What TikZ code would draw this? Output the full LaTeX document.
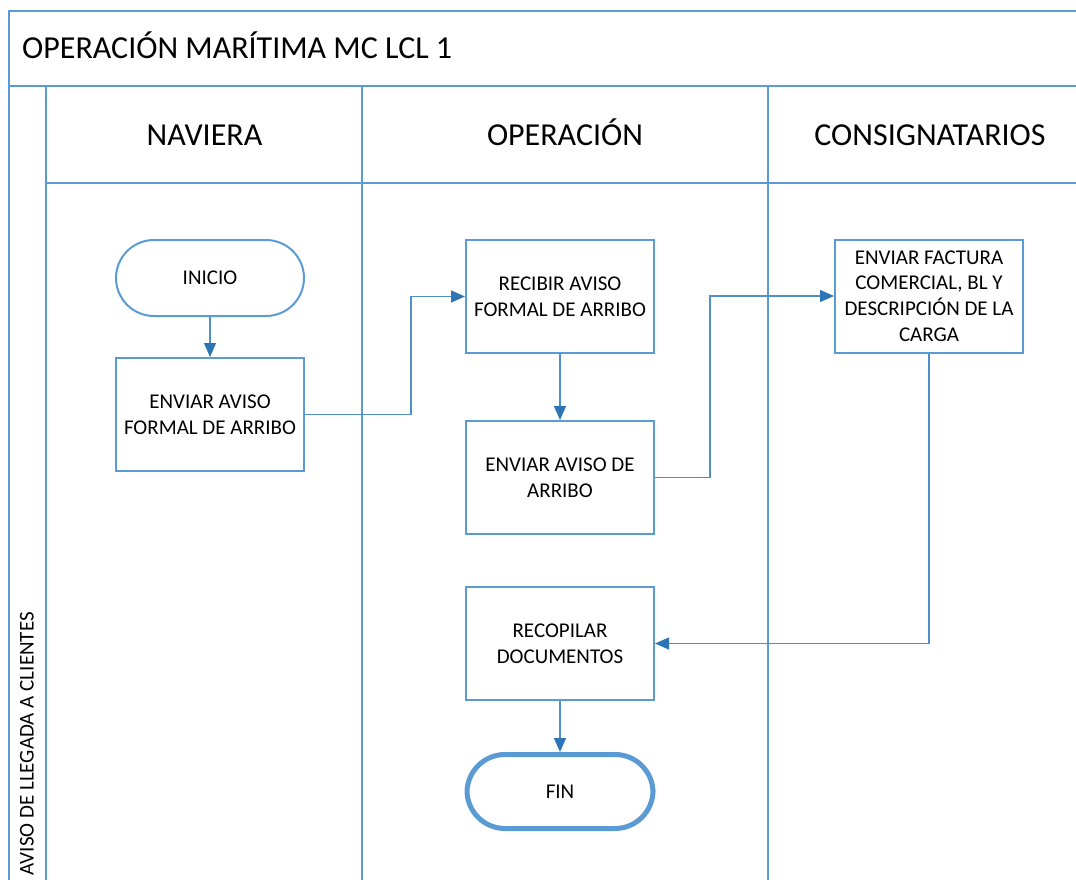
\documentclass[tikz,border=0pt]{standalone}
\usepackage{fontspec}
\setmainfont{Carlito}
\usetikzlibrary{arrows.meta}
\definecolor{lane}{HTML}{5B9BD5}
\definecolor{conn}{HTML}{4F8FCC}
\definecolor{tip}{HTML}{2E75B6}
\tikzset{
  frame/.style={draw=lane, line width=2pt},
  big/.style={font=\fontsize{32}{38}\selectfont, inner sep=0pt},
  txt/.style={font=\fontsize{21}{25.6}\selectfont, align=center},
  procbox/.style={draw=lane, line width=2pt, fill=white, minimum width=188pt, minimum height=113pt, txt},
  termbox/.style={draw=lane, line width=2pt, fill=white, rounded corners=38pt, minimum width=188pt, minimum height=76pt, txt},
  conn/.style={draw=conn, line width=1.3pt, -{Triangle[length=14pt,width=12pt,color=tip]}},
}
\begin{document}
\begin{tikzpicture}[x=1pt,y=-1pt]
\useasboundingbox (0,0) rectangle (1076,880);
\fill[white] (0,0) rectangle (1076,880);
% frame
\draw[frame] (9,880) -- (9,11) -- (1076,11);
\draw[frame] (9,86) -- (1076,86);
\draw[frame] (46,86) -- (46,880);
\draw[frame] (46,183) -- (1076,183);
\draw[frame] (362,86) -- (362,880);
\draw[frame] (768,86) -- (768,880);
% labels
\node[big, anchor=base west] (title) at (22,59) {OPERACIÓN MARÍTIMA MC LCL 1};
\node[big, anchor=base] (h1) at (204.5,146) {NAVIERA};
\node[big, anchor=base] (h2) at (565,146) {OPERACIÓN};
\node[big, anchor=base] (h3) at (930,146) {CONSIGNATARIOS};
\node[font=\fontsize{21}{25.6}\selectfont, inner sep=0pt, rotate=90, anchor=base east] (lanelbl) at (33.5,612) {AVISO DE LLEGADA A CLIENTES};
% nodes
\node[termbox] (ini) at (210,278) {INICIO};
\node[procbox] (ea) at (210,414.5) {ENVIAR AVISO\\FORMAL DE ARRIBO};
\node[procbox] (rb) at (560,296.5) {RECIBIR AVISO\\FORMAL DE ARRIBO};
\node[procbox] (ed) at (560,477.5) {ENVIAR AVISO DE\\ARRIBO};
\node[procbox] (fc) at (929,296) {ENVIAR FACTURA\\COMERCIAL, BL Y\\DESCRIPCIÓN DE LA\\CARGA};
\node[procbox] (rd) at (560,643.5) {RECOPILAR\\DOCUMENTOS};
\node[termbox, line width=5pt, minimum height=74pt, minimum width=186pt] (fin) at (560,791.5) {FIN};
% connectors
\draw[conn] (ini) -- (ea);
\draw[conn] (ea.east) -- ++(106,0) |- (rb.west);
\draw[conn] (rb) -- (ed);
\draw[conn] (ed.east) -- ++(55,0) |- (fc.west);
\draw[conn] (fc.south) |- (rd.east);
\draw[conn] (rd) -- (fin);
\end{tikzpicture}
\end{document}
